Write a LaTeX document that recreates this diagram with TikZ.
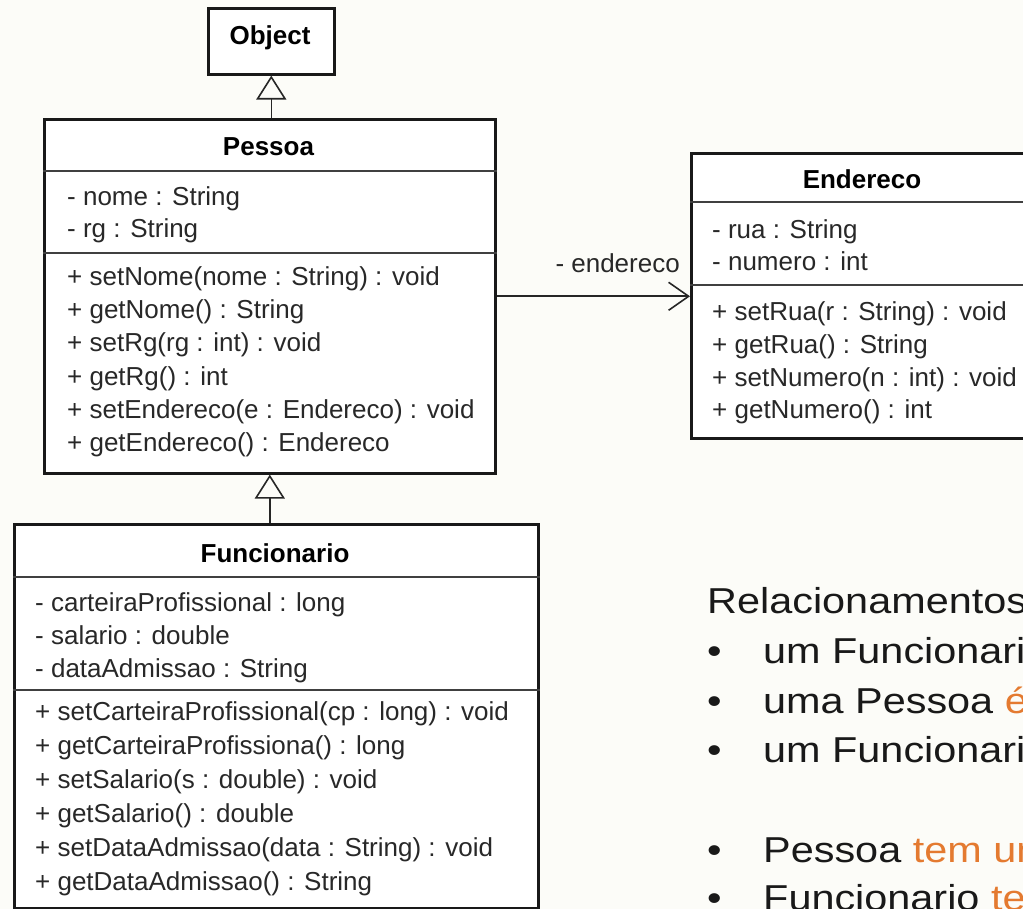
\documentclass[tikz,border=0pt]{standalone}
\usepackage{fontspec}
\setmainfont{Liberation Sans}
\newfontfamily\bigfam[FakeStretch=1.15]{Liberation Sans}
\usetikzlibrary{arrows.meta}
\definecolor{bgc}{RGB}{252,252,248}
\definecolor{txt}{RGB}{40,40,40}
\definecolor{orng}{RGB}{228,122,48}
\newcommand\memfont{\fontsize{26}{33}\selectfont}
\newcommand\bigtxt{\bigfam\fontsize{36}{44}\selectfont}
\tikzset{
  cls/.style={draw=black!90, line width=2.6pt, fill=white, inner sep=0pt, anchor=north west},
  sepline/.style={line width=1.6pt, draw=black!75},
  mem/.style={anchor=base west, inner sep=0pt, font=\memfont, text=txt},
  ttl/.style={anchor=base, inner sep=0pt, font=\memfont\bfseries, text=black},
  gen/.style={line width=1.6pt, draw=black!85, -{Triangle[open, length=24pt, width=30pt, line width=1.6pt, fill=bgc]}},
  assoc/.style={line width=1.6pt, draw=black!85, -{Straight Barb[length=20pt, width=28pt, line width=1.6pt]}},
  big/.style={anchor=base west, inner sep=0pt, font=\bigtxt, text=black!90},
}
\begin{document}
\begin{tikzpicture}[x=1pt, y=-1pt]
\useasboundingbox (0,0) rectangle (1023,909);
\clip (0,0) rectangle (1023,909);
\fill[bgc] (0,0) rectangle (1023,909);

% classes
\node[cls, minimum width=126pt, minimum height=66pt] (obj) at (207,7) {};
\node[cls, minimum width=451pt, minimum height=354pt] (pessoa) at (43,118) {};
\node[cls, minimum width=524pt, minimum height=384pt] (func) at (13,523) {};
\node[cls, minimum width=344pt, minimum height=285pt] (end) at (690,152) {};

% compartments
\draw[sepline] (pessoa.west |- 0,171) -- (pessoa.east |- 0,171);
\draw[sepline] (pessoa.west |- 0,253) -- (pessoa.east |- 0,253);
\draw[sepline] (func.west |- 0,577) -- (func.east |- 0,577);
\draw[sepline] (func.west |- 0,690) -- (func.east |- 0,690);
\draw[sepline] (end.west |- 0,202) -- (end.east |- 0,202);
\draw[sepline] (end.west |- 0,285) -- (end.east |- 0,285);

% titles
\node[ttl] (objt) at (270,45) {Object};
\node[ttl] (pest) at (268.5,156) {Pessoa};
\node[ttl] (funt) at (275,562) {Funcionario};
\node[ttl] (endt) at (862,189) {Endereco};

% Pessoa members
\node[mem] (pa1) at (67,206) {- nome : String};
\node[mem] (pa2) at (67,238) {- rg : String};
\foreach \t [count=\i] in {+ setNome(nome : String) : void, + getNome() : String, + setRg(rg : int) : void, + getRg() : int, + setEndereco(e : Endereco) : void, + getEndereco() : Endereco}
  \node[mem] (pm\i) at (67,{286+33*(\i-1)}) {\t};

% Funcionario members
\node[mem] (fa1) at (35,611) {- carteiraProfissional : long};
\node[mem] (fa2) at (35,644) {- salario : double};
\node[mem] (fa3) at (35,677) {- dataAdmissao : String};
\foreach \t [count=\i] in {+ setCarteiraProfissional(cp : long) : void, + getCarteiraProfissiona() : long, + setSalario(s : double) : void, + getSalario() : double, + setDataAdmissao(data : String) : void, + getDataAdmissao() : String}
  \node[mem] (fm\i) at (35,{720+34*(\i-1)}) {\t};

% Endereco members
\node[mem] (ea1) at (712,239) {- rua : String};
\node[mem] (ea2) at (712,271) {- numero : int};
\foreach \t [count=\i] in {+ setRua(r : String) : void, + getRua() : String, + setNumero(n : int) : void, + getNumero() : int}
  \node[mem] (em\i) at (712,{321+32.5*(\i-1)}) {\t};

% connectors
\draw[gen] (obj.south |- pessoa.north) -- (obj.south);
\draw[gen] (pessoa.south |- func.north) -- (pessoa.south);
\draw[assoc] (pessoa.east) -- (pessoa.east -| end.west);
\node[mem, anchor=base east] (lbl) at (680,273) {- endereco};

% right text
\node[big] (rel) at (707,613) {Relacionamentos};
\node[big] (d1) at (707,663) {•};
\node[big] (t1) at (763,663) {um Funcionario};
\node[big] (d2) at (707,713) {•};
\node[big] (t2) at (763,713) {uma Pessoa \textcolor{orng}{é}};
\node[big] (d3) at (707,762) {•};
\node[big] (t3) at (763,762) {um Funcionario};
\node[big] (d4) at (707,862) {•};
\node[big] (t4) at (763,862) {Pessoa \textcolor{orng}{tem um}};
\node[big] (d5) at (707,910) {•};
\node[big] (t5) at (763,910) {Funcionario \textcolor{orng}{tem}};
\end{tikzpicture}
\end{document}
